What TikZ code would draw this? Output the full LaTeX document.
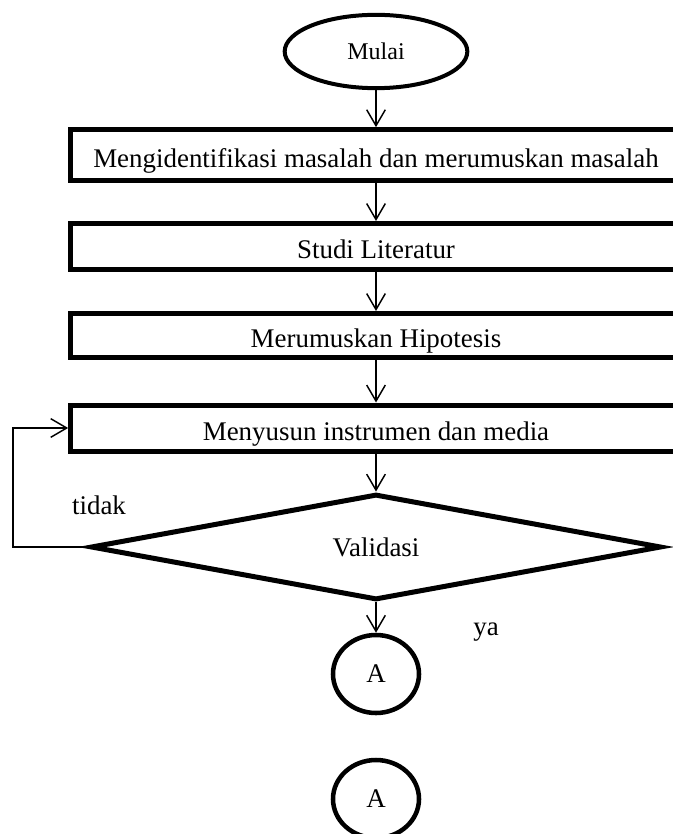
\documentclass[tikz,border=0pt]{standalone}
\usepackage{fontspec}
\setmainfont{Liberation Serif}
\usetikzlibrary{shapes.geometric,arrows.meta}
\tikzstyle{stepbox}=[rectangle,draw,line width=3.75pt,minimum width=458pt,minimum height=34.5pt,inner sep=0pt,text height=18.5pt,text depth=0pt,font=\fontsize{20.2}{24}\selectfont]
\tikzstyle{terminal}=[ellipse,draw,line width=3pt,minimum width=137pt,minimum height=55pt,inner sep=0pt,font=\fontsize{18}{22}\selectfont]
\tikzstyle{decision}=[diamond,draw,line width=3.75pt,minimum width=428pt,minimum height=78pt,inner sep=0pt,font=\fontsize{20.2}{24}\selectfont]
\tikzstyle{connector}=[ellipse,draw,line width=3.4pt,minimum width=64.5pt,minimum height=58.5pt,inner sep=0pt,font=\fontsize{20.2}{24}\selectfont]
\tikzstyle{flowtext}=[inner sep=0pt,font=\fontsize{20.2}{24}\selectfont]

\begin{document}
\begin{tikzpicture}[x=0.75pt,y=-0.75pt,line width=1.1pt,>={Straight Barb[length=12pt,width=14pt]}]
      \useasboundingbox (0,0) rectangle (673,834);
      \clip (0,0) rectangle (673,834);

      \node[terminal] (start) at (376,51.5) {Mulai};
      \node[stepbox, minimum height=38pt] (s1) at (376,155) {Mengidentifikasi masalah dan merumuskan masalah};
      \node[stepbox] (s2) at (376,246.5) {Studi Literatur};
      \node[stepbox, minimum height=33pt] (s3) at (376,335.5) {Merumuskan Hipotesis};
      \node[stepbox] (s4) at (376,428) {Menyusun instrumen dan media};
      \node[decision] (valid) at (376,547) {Validasi};
      \node[connector] (a1) at (376,674) {A};
      \node[connector] (a2) at (376,799) {A};
      \node[flowtext] (tidak) at (99,505) {tidak};
      \node[flowtext] (ya) at (486,632) {ya};

      \draw[->] (start) -- (s1);
      \draw[->] (s1) -- (s2);
      \draw[->] (s2) -- (s3);
      \draw[->] (s3) -- (s4);
      \draw[->] (s4) -- (valid);
      \draw[->] (valid) -- (a1);
      \draw[->] (valid.west) -- ++(-75,0) |- (s4.west);
    \end{tikzpicture}
\end{document}
